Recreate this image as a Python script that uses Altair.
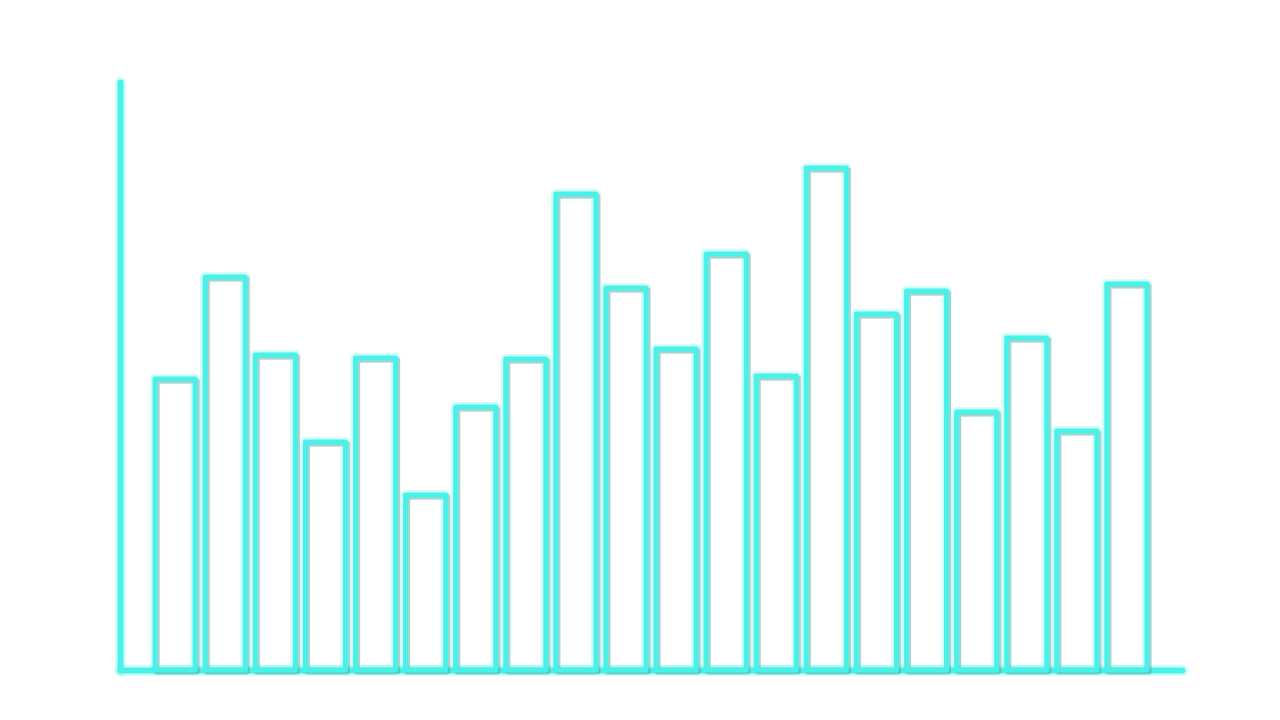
import altair as alt
import pandas as pd

categories = [f"C{i+1}" for i in range(20)]
values = [291, 393, 315, 228, 312, 175, 263, 311, 476, 382,
          321, 416, 294, 502, 356, 379, 258, 332, 239, 386]

df = pd.DataFrame({"cat": categories, "val": values})

CYAN = "#48F2E8"

xscale = alt.Scale(paddingInner=0.2, paddingOuter=0.7)
yscale = alt.Scale(domain=[0, 588], nice=False, zero=True)


def axis(width, color, opacity, orient):
    return alt.Axis(labels=False, ticks=False, title=None, grid=False, orient=orient,
                    domainColor=color, domainWidth=width, domainCap="round",
                    domainOpacity=opacity)


glow = alt.Chart(df).mark_bar(
    filled=False, stroke=CYAN, strokeWidth=10, strokeOpacity=0.25, strokeJoin="round"
).encode(
    x=alt.X("cat:N", sort=categories, scale=xscale, axis=axis(11, CYAN, 0.25, "bottom")),
    y=alt.Y("val:Q", scale=yscale, axis=axis(11, CYAN, 0.25, "left")),
)

shadow = alt.Chart(df).mark_bar(
    filled=False, stroke="#666666", strokeWidth=5, strokeOpacity=0.3,
    xOffset=2, yOffset=2, strokeJoin="round"
).encode(
    x=alt.X("cat:N", sort=categories, scale=xscale, axis=None),
    y=alt.Y("val:Q", scale=yscale, axis=None),
)

bars = alt.Chart(df).mark_bar(
    filled=False, stroke=CYAN, strokeWidth=5, strokeJoin="round"
).encode(
    x=alt.X("cat:N", sort=categories, scale=xscale, axis=axis(6, CYAN, 1, "bottom")),
    y=alt.Y("val:Q", scale=yscale, axis=axis(6, CYAN, 1, "left")),
)

chart = alt.layer(glow, shadow, bars).resolve_axis(
    x="independent", y="independent"
).properties(
    width=1062, height=588,
    padding={"left": 112, "top": 74, "right": 10, "bottom": 10},
    autosize=alt.AutoSizeParams(type="none"),
    background="white",
).configure_view(stroke=None)

chart.save("out.html", embed_options={"renderer": "svg", "actions": False})
